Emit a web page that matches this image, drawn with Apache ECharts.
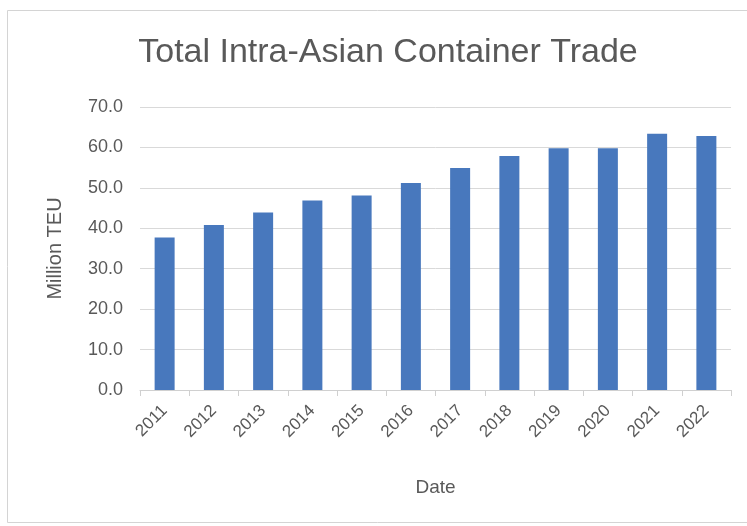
<!DOCTYPE html>
<html><head><meta charset="utf-8">
<script src="https://cdn.jsdelivr.net/npm/echarts@6/dist/echarts.min.js"></script>
<style>html,body{margin:0;padding:0;background:#fff}#c{width:747px;height:526px}</style>
</head><body><div id="c"></div>
<script>
const categories = ['2011','2012','2013','2014','2015','2016','2017','2018','2019','2020','2021','2022'];
const values = [37.7, 40.8, 43.9, 46.9, 48.1, 51.2, 54.9, 57.9, 59.8, 59.8, 63.4, 62.8];
const yTicks = {min: 0, max: 70, interval: 10};

const chart = echarts.init(document.getElementById('c'), null, {renderer: 'canvas'});
chart.setOption({
  backgroundColor: '#fff',
  animation: false,
  graphic: [{type: 'rect', shape: {x: 7.5, y: 10.5, width: 760, height: 512}, style: {fill: 'none', stroke: '#d4d4d4', lineWidth: 1}, silent: true}],
  title: {text: 'Total Intra-Asian Container Trade', left: 383, textAlign: 'center', top: 31,
    textStyle: {fontFamily: 'Liberation Sans, Arial', fontWeight: 'normal', fontSize: 34, color: '#595959'}},
  grid: {left: 140, right: 16, top: 107, bottom: 136},
  xAxis: {type: 'category', data: categories, name: 'Date', nameLocation: 'middle', nameGap: 88,
    nameTextStyle: {fontFamily: 'Liberation Sans, Arial', fontSize: 19, color: '#595959'},
    axisLine: {lineStyle: {color: '#d0d0d0'}}, axisTick: {show: true, length: 6, lineStyle: {color: '#d0d0d0'}},
    axisLabel: {rotate: 45, fontFamily: 'Liberation Sans, Arial', fontSize: 17, color: '#595959', margin: 18}},
  yAxis: {type: 'value', min: yTicks.min, max: yTicks.max, interval: yTicks.interval,
    name: 'Million TEU', nameLocation: 'middle', nameGap: 75, nameRotate: 90,
    nameTextStyle: {fontFamily: 'Liberation Sans, Arial', fontSize: 20, color: '#595959'},
    axisLine: {show: false}, axisTick: {show: false},
    axisLabel: {formatter: v => v.toFixed(1), fontFamily: 'Liberation Sans, Arial', fontSize: 18, color: '#595959', margin: 17},
    splitLine: {lineStyle: {color: '#d9d9d9'}}},
  series: [{type: 'bar', data: values, barWidth: 20, itemStyle: {color: '#4878bd'}}]
});
</script></body></html>
